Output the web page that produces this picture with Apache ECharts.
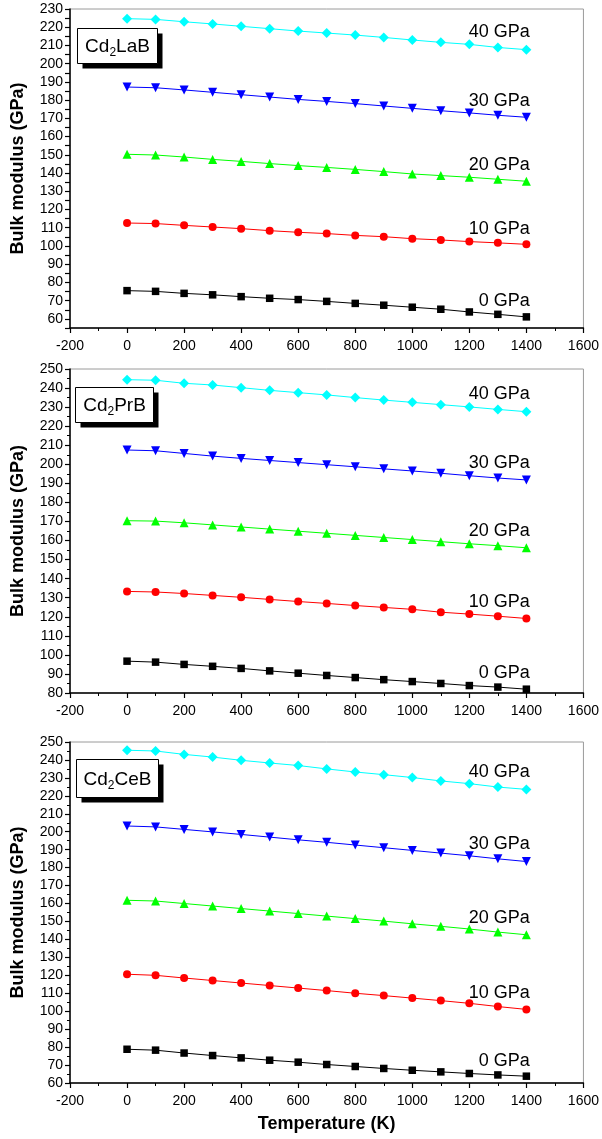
<!DOCTYPE html>
<html>
<head>
<meta charset="utf-8">
<script src="https://cdn.jsdelivr.net/npm/echarts@6/dist/echarts.min.js"></script>
<style>
html,body{margin:0;padding:0;background:#fff;}
#chart{width:602px;height:1139px;}
</style>
</head>
<body>
<div id="chart"></div>
<script>
// ---- data ----
const temperatures = [0,100,200,300,400,500,600,700,800,900,1000,1100,1200,1300,1400];
const pressureLabels = ['0 GPa','10 GPa','20 GPa','30 GPa','40 GPa'];
const compounds = ['Cd{s|2}LaB','Cd{s|2}PrB','Cd{s|2}CeB'];

const cd2LaB_0  = [75.5,75.1,74.0,73.2,72.2,71.3,70.6,69.6,68.5,67.5,66.4,65.3,63.8,62.5,61.1];
const cd2LaB_10 = [112.6,112.3,111.3,110.4,109.5,108.4,107.5,106.8,105.8,105.1,104.0,103.3,102.4,101.7,100.9];
const cd2LaB_20 = [150.3,149.9,148.8,147.5,146.4,145.2,144.1,143.1,142.0,140.8,139.5,138.6,137.7,136.6,135.5];
const cd2LaB_30 = [187.2,186.8,185.6,184.3,183.0,181.7,180.4,179.3,178.1,176.8,175.5,174.2,173.0,171.7,170.6];
const cd2LaB_40 = [224.7,224.3,223.0,221.8,220.5,219.2,217.9,216.8,215.7,214.4,213.0,211.7,210.6,208.9,207.7];

const cd2PrB_0  = [96.7,96.2,95.0,94.0,92.9,91.6,90.4,89.2,88.1,87.0,86.0,85.0,83.9,83.1,82.0];
const cd2PrB_10 = [133.3,133.0,132.2,131.2,130.2,129.1,128.0,127.0,125.9,124.9,123.9,122.4,121.4,120.3,119.1];
const cd2PrB_20 = [170.4,170.2,169.3,168.2,167.1,166.0,164.9,163.8,162.7,161.6,160.5,159.4,158.3,157.3,156.2];
const cd2PrB_30 = [207.5,207.1,205.7,204.3,203.1,202.0,200.9,199.8,198.7,197.6,196.5,195.3,194.0,192.8,191.8];
const cd2PrB_40 = [244.4,244.1,242.5,241.6,240.2,238.8,237.6,236.4,235.0,233.7,232.5,231.3,230.1,228.8,227.6];

const cd2CeB_0  = [78.8,78.3,76.7,75.3,74.0,72.7,71.6,70.3,69.2,68.1,67.1,66.2,65.3,64.5,63.8];
const cd2CeB_10 = [120.6,120.0,118.5,117.1,115.7,114.3,112.9,111.5,110.0,108.7,107.3,105.9,104.4,102.6,101.0];
const cd2CeB_20 = [161.8,161.4,160.0,158.6,157.2,155.8,154.4,153.0,151.6,150.2,148.7,147.3,145.8,144.1,142.6];
const cd2CeB_30 = [203.2,202.7,201.3,199.9,198.5,197.0,195.5,194.1,192.6,191.1,189.6,188.1,186.6,184.9,183.4];
const cd2CeB_40 = [245.4,245.0,243.1,241.6,239.8,238.3,236.9,235.0,233.3,231.8,230.2,228.3,226.8,224.9,223.6];

const panelSeries = [
  [cd2LaB_0, cd2LaB_10, cd2LaB_20, cd2LaB_30, cd2LaB_40],
  [cd2PrB_0, cd2PrB_10, cd2PrB_20, cd2PrB_30, cd2PrB_40],
  [cd2CeB_0, cd2CeB_10, cd2CeB_20, cd2CeB_30, cd2CeB_40]
];
const yRanges = [[55,230,5],[80,250,10],[60,250,10]];

// ---- styles ----
const FONT = 'Liberation Sans';
const colors = ['#000000','#ff0000','#00ff00','#0000ff','#00ffff'];
const symbols = ['rect','circle','triangle','triangle','diamond'];
const symbolSizes = [7.5,8,9,9,10];
const symbolRotates = [0,0,0,180,0];
const grids = [
  {left:70, right:17, top:9, height:319},
  {left:70, right:16, top:369, height:324},
  {left:70, right:16, top:742, height:341}
];
const boxes = [
  {x:77, y:28, w:80, h:35},
  {x:75, y:387, w:78, h:35},
  {x:76, y:759, w:82, h:38}
];

const xAxes = [], yAxes = [], series = [], graphics = [];
grids.forEach((g, i) => {
  g.show = true; g.borderColor = '#9a9a9a'; g.borderWidth = 1; g.backgroundColor = 'transparent';
  xAxes.push({
    type:'value', gridIndex:i, min:-200, max:1600, interval:200,
    axisLine:{show:true, onZero:false, lineStyle:{color:'#000', width:1.5}},
    axisTick:{show:true, length:5, lineStyle:{color:'#000', width:1.2}},
    minorTick:{show:true, splitNumber:2, length:3, lineStyle:{color:'#000', width:1}},
    splitLine:{show:false}, minorSplitLine:{show:false},
    axisLabel:{color:'#000', fontFamily:FONT, fontSize:14, margin:11, formatter: v => String(v)},
    name: i === 2 ? 'Temperature (K)' : '',
    nameLocation:'middle', nameGap:32,
    nameTextStyle:{color:'#000', fontFamily:FONT, fontSize:18, fontWeight:'bold'}
  });
  const [ymin, ymax, yint] = yRanges[i];
  yAxes.push({
    type:'value', gridIndex:i, min:ymin, max:ymax, interval:yint,
    axisLine:{show:true, onZero:false, lineStyle:{color:'#000', width:1.5}},
    axisTick:{show:true, length:5, lineStyle:{color:'#000', width:1.2}},
    minorTick:{show: yint === 10, splitNumber:2, length:3, lineStyle:{color:'#000', width:1}},
    splitLine:{show:false}, minorSplitLine:{show:false},
    axisLabel:{color:'#000', fontFamily:FONT, fontSize:14, margin:7,
      formatter: v => (v % 10 === 0 ? String(v) : '')},
    name:'Bulk modulus (GPa)', nameLocation:'middle', nameGap:43,
    nameTextStyle:{color:'#000', fontFamily:FONT, fontSize:18, fontWeight:'bold'}
  });
  panelSeries[i].forEach((vals, k) => {
    series.push({
      type:'line', xAxisIndex:i, yAxisIndex:i, name:pressureLabels[k],
      data: temperatures.map((t, j) => {
        const item = {value:[t, vals[j]]};
        if (j === temperatures.length - 2) {
          item.label = {show:true, position:'top', distance:1, align:'right', offset:[32,0],
            formatter: pressureLabels[k], color:'#000', fontFamily:FONT, fontSize:18};
        }
        return item;
      }),
      symbol:symbols[k], symbolSize:symbolSizes[k], symbolRotate:symbolRotates[k],
      showAllSymbol:true,
      itemStyle:{color:colors[k]},
      lineStyle:{color:colors[k], width:1},
      label:{show:false},
      emphasis:{disabled:true},
      animation:false, z:3
    });
  });
  const b = boxes[i];
  graphics.push({
    type:'group', left:b.x, top:b.y, z:10,
    children:[
      {type:'rect', shape:{x:5, y:5, width:b.w, height:b.h}, style:{fill:'#000'}},
      {type:'rect', shape:{x:0, y:0, width:b.w, height:b.h}, style:{fill:'#fff', stroke:'#000', lineWidth:1}},
      {type:'text', x:b.w/2, y:b.h/2 + 1, style:{
        text:compounds[i], align:'center', verticalAlign:'middle',
        fontFamily:FONT, fontSize:19, fill:'#000',
        rich:{s:{fontFamily:FONT, fontSize:12, fill:'#000', padding:[12,0,0,0]}}
      }}
    ]
  });
});

const chart = echarts.init(document.getElementById('chart'), null, {renderer:'canvas'});
chart.setOption({
  animation:false,
  backgroundColor:'#fff',
  grid:grids, xAxis:xAxes, yAxis:yAxes, series:series, graphic:graphics
});
</script>
</body>
</html>
